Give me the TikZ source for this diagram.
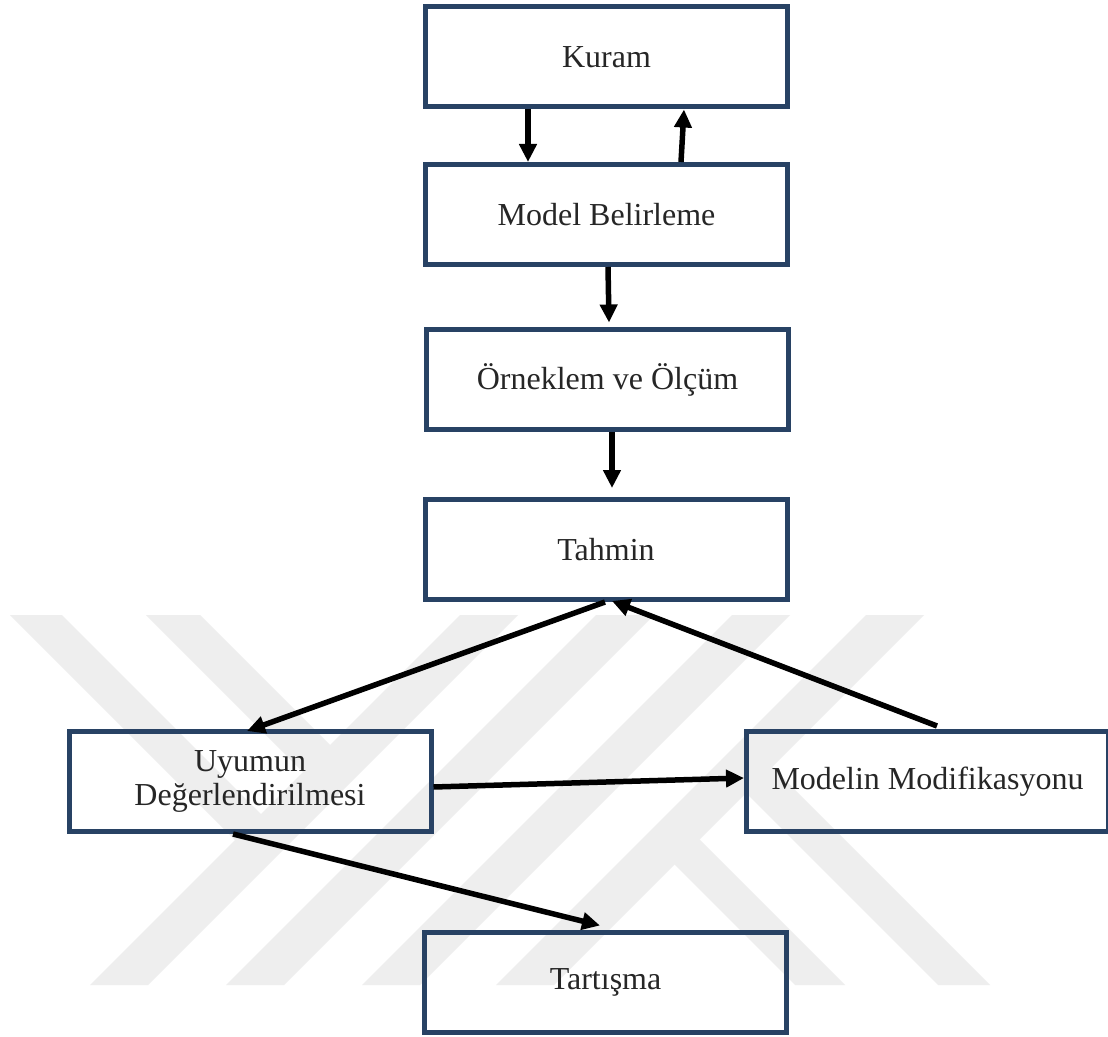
\documentclass[tikz,border=0pt]{standalone}
\usepackage{fontspec}
\setmainfont{Liberation Serif}
\usetikzlibrary{arrows.meta}
\definecolor{boxblue}{RGB}{40,66,100}
\definecolor{wmgray}{RGB}{238,238,238}
\definecolor{txt}{RGB}{38,38,38}
\begin{document}
\begin{tikzpicture}[x=0.5pt,y=-0.5pt,
  box/.style={draw=boxblue,line width=2.5pt,minimum width=181pt,minimum height=50pt,
    inner sep=0pt,text=txt,font=\fontsize{16}{17}\selectfont,align=center},
  arr/.style={-{Triangle[length=9pt,width=8.5pt]},line width=2.75pt,black},
  wm/.style={fill=wmgray,draw=none}]
\fill[white] (0,0) rectangle (1108,1037);
\useasboundingbox (0,0) rectangle (1108,1037);
% watermark stripes
\fill[wm] (10,615) -- (62,615) -- (275.5,828.5) -- (249.5,854.5) -- cycle;
\fill[wm] (146,615) -- (200,615) -- (344.5,759.5) -- (317.5,786.5) -- cycle;
\fill[wm] (90,985) -- (148,985) -- (518,615) -- (460,615) -- cycle;
\fill[wm] (226,985) -- (284,985) -- (654,615) -- (596,615) -- cycle;
\fill[wm] (362,985) -- (420,985) -- (790,615) -- (732,615) -- cycle;
\fill[wm] (496,985) -- (554,985) -- (924,615) -- (866,615) -- cycle;
\fill[wm] (795,985) -- (845,985) -- (685,825) -- (660,850) -- cycle;
\fill[wm] (938,985) -- (990,985) -- (757.5,752.5) -- (731.5,778.5) -- cycle;
% boxes
\node[box] (kuram) at (606.5,57) {Kuram};
\node[box] (model) at (606.5,214.5) {Model Belirleme};
\node[box] (orneklem) at (607.5,379.5) {Örneklem ve Ölçüm};
\node[box] (tahmin) at (606,549.5) {Tahmin};
\node[box] (uyum) at (250,781.5) {Uyumun\\Değerlendirilmesi};
\node[box] (modif) at (927.5,781.5) {Modelin Modifikasyonu};
\node[box] (tartisma) at (605.5,982.5) {Tartışma};
% arrows
\draw[arr] ([xshift=-39.25pt]kuram.south) -- ([xshift=-39.25pt]model.north);
\draw[arr] ([xshift=37.25pt]model.north) -- ([xshift=38.75pt]kuram.south);
\draw[arr] ([xshift=0.75pt]model.south) -- ([xshift=0.75pt,yshift=2.25pt]orneklem.north);
\draw[arr] ([xshift=2.25pt]orneklem.south) -- ([xshift=3pt,yshift=4.5pt]tahmin.north);
\draw[arr] ([xshift=-0.5pt]tahmin.south) -- ([xshift=-1.5pt,yshift=-1pt]uyum.north);
\draw[arr] ([xshift=4.75pt,yshift=1.5pt]modif.north) -- ([xshift=3pt,yshift=0.5pt]tahmin.south);
\draw[arr] ([yshift=-2.75pt]uyum.east) -- ([yshift=1.75pt]modif.west);
\draw[arr] ([xshift=-8.5pt]uyum.south) -- ([xshift=-2.75pt,yshift=2.25pt]tartisma.north);
\end{tikzpicture}
\end{document}
